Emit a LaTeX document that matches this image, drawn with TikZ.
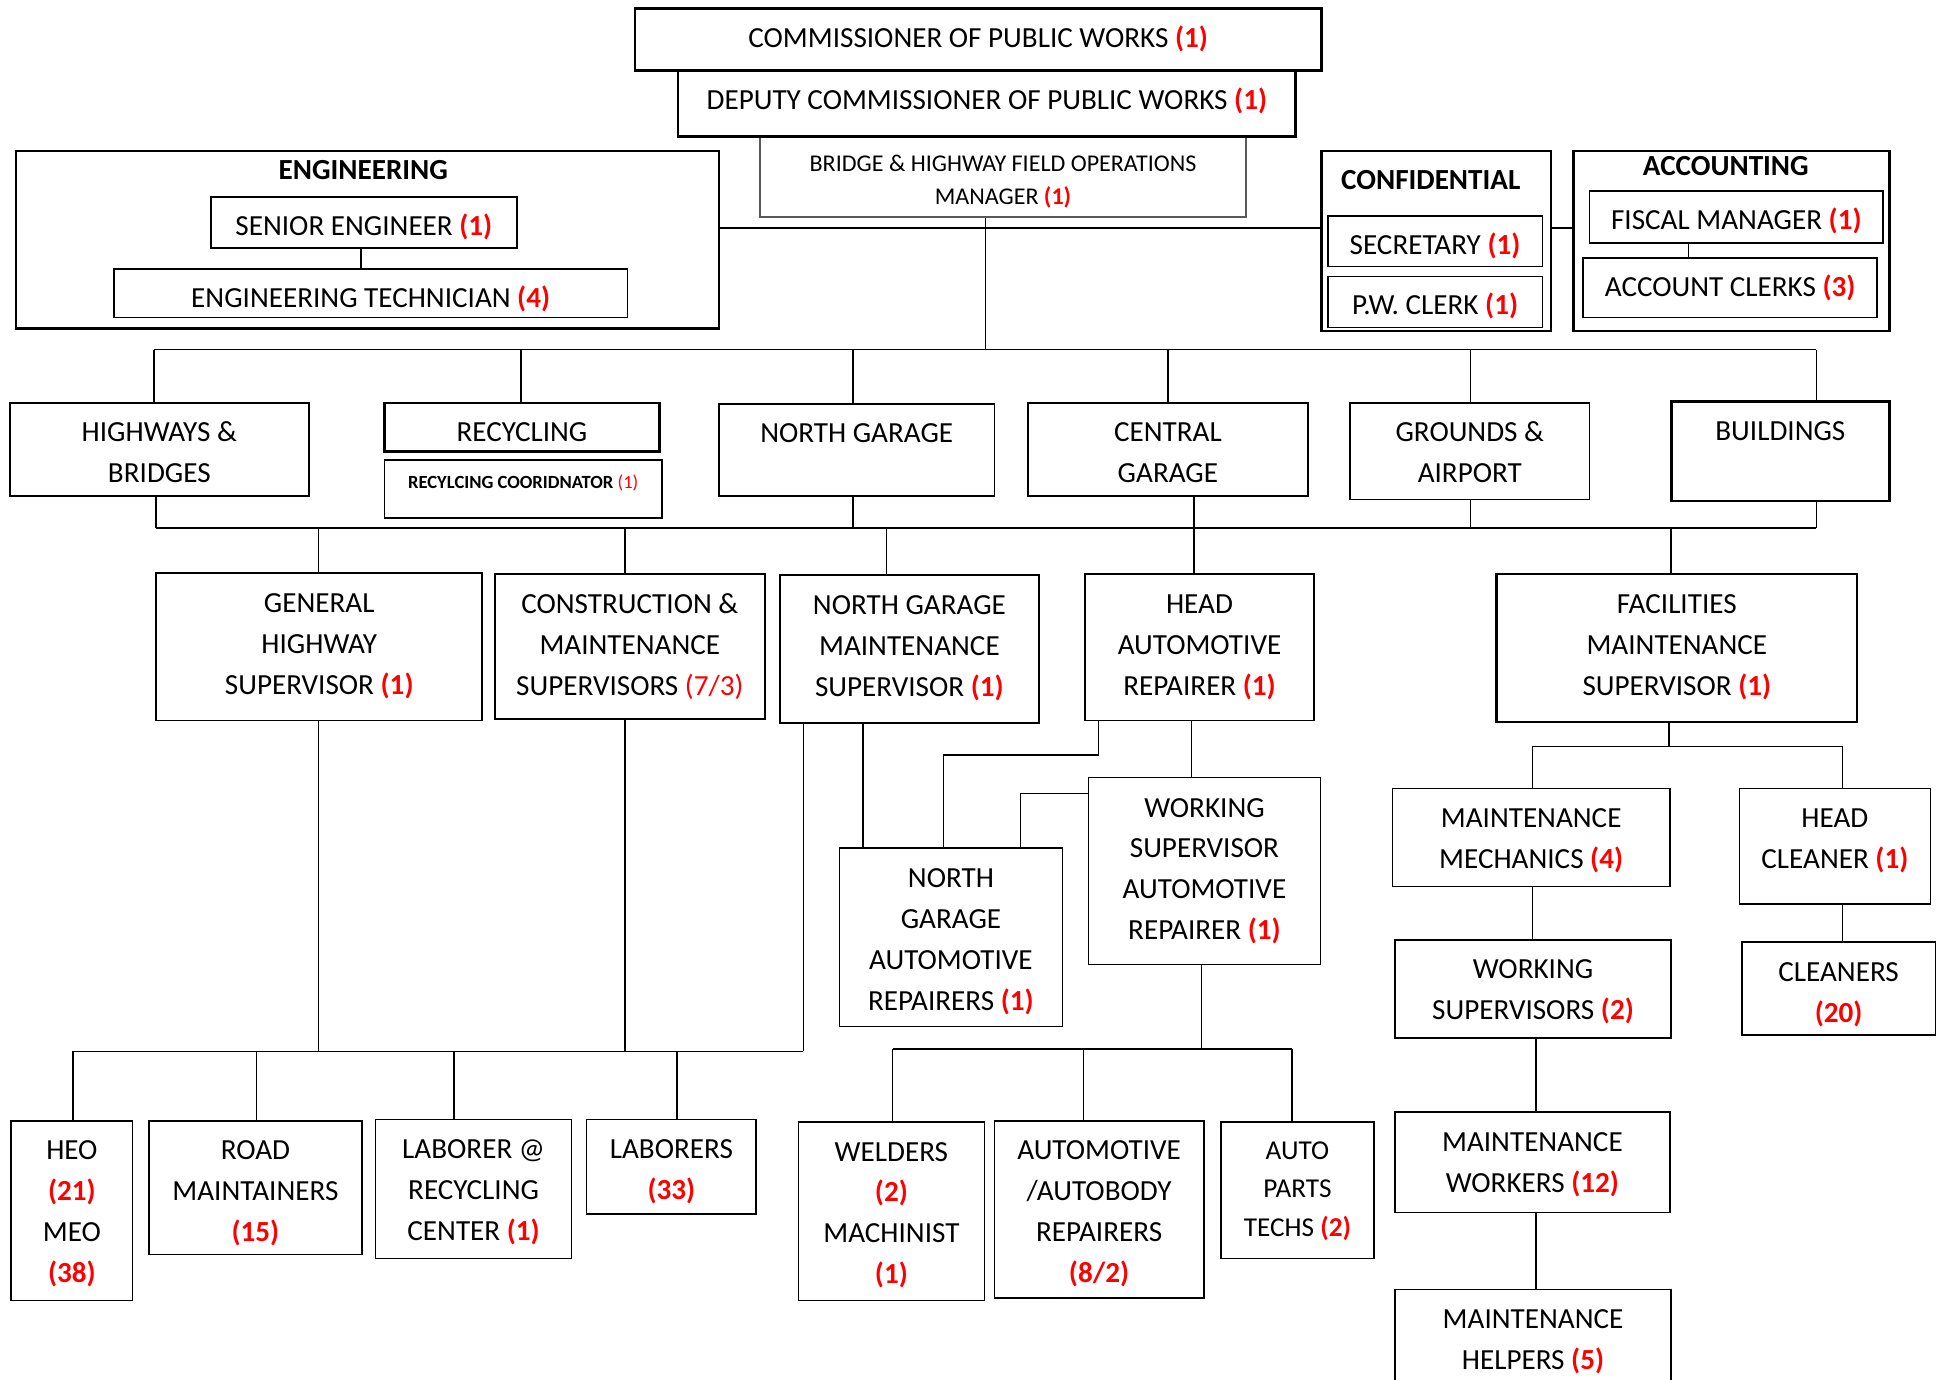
\documentclass[tikz,border=0pt]{standalone}
\usepackage{fontspec}
\setmainfont{Carlito}
\newcommand\fsz{\fontsize{23.5}{33}\selectfont}
\newcommand\fsb{\fontsize{19.4}{27}\selectfont}
\newcommand\fss{\fontsize{15}{18}\selectfont}
\newcommand\nm[1]{{\bfseries\color{red}#1}}
\newcommand\nr[1]{{\color{red}#1}}
\tikzset{
  bx/.style={draw, line width=1.3pt, inner sep=0pt, align=center, font=\fsz},
  thk/.style={line width=2pt},
  ln/.style={line width=1.3pt},
  sz/.style 2 args={minimum width=#1pt, minimum height=#2pt},
  tp/.style={text height=31pt, text depth=#1pt},
  tq/.style 2 args={text height=#1pt, text depth=#2pt},
  ttl/.style={font=\fsz\bfseries, inner sep=0pt}
}
\begin{document}
\begin{tikzpicture}[x=1pt,y=-1pt]
\useasboundingbox (0,0) rectangle (1568,1113);
\clip (0,0) rectangle (1568,1113);
\fill[white] (0,0) rectangle (1568,1113);
% top
\node[bx,draw=gray!70!black,line width=1pt,sz={392}{65},font=\fsb,tq={55}{10}] (bridge) at (809,142.5) {BRIDGE \& HIGHWAY FIELD OPERATIONS\\MANAGER \nm{(1)}};
\node[bx,thk,sz={554}{50},tp=19] (comm) at (789,32) {COMMISSIONER OF PUBLIC WORKS \nm{(1)}};
\node[bx,thk,sz={498}{53},tp=22] (dep) at (796,83.5) {DEPUTY COMMISSIONER OF PUBLIC WORKS \nm{(1)}};
% engineering
\node[bx,thk,sz={567}{143}] (eng) at (296.5,193.5) {};
\node[ttl] (engt) at (293,137) {ENGINEERING};
\node[bx,sz={247}{41},tp=10] (senior) at (293.5,179.5) {SENIOR ENGINEER \nm{(1)}};
\node[bx,sz={414}{39},tp=8] (tech) at (299,236.5) {ENGINEERING TECHNICIAN \nm{(4)}};
% confidential
\node[bx,thk,sz={185}{145}] (conf) at (1158.5,194.5) {};
\node[ttl] (conft) at (1154,145) {CONFIDENTIAL};
\node[bx,sz={173}{41},tp=10] (sec) at (1157.5,194.5) {SECRETARY \nm{(1)}};
\node[bx,sz={173}{41},tp=10] (pw) at (1157.5,243.5) {P.W. CLERK \nm{(1)}};
% accounting
\node[bx,thk,sz={255}{145}] (acct) at (1396.5,194.5) {};
\node[ttl] (acctt) at (1392,134) {ACCOUNTING};
\node[bx,sz={237}{42},tp=11] (fisc) at (1400.5,175) {FISCAL MANAGER \nm{(1)}};
\node[bx,sz={237}{48},tp=17] (clerks) at (1395.5,232) {ACCOUNT CLERKS \nm{(3)}};
% departments
\node[bx,sz={241}{75},tq={64.5}{10.5}] (hwy) at (128.5,362.5) {HIGHWAYS \&\\BRIDGES};
\node[bx,thk,sz={222}{39},tp=8] (recy) at (421,344.5) {RECYCLING};
\node[bx,sz={224}{47},font=\fss,tq={22.8}{24.2}] (recoord) at (422,394.5) {{\bfseries RECYLCING COORIDNATOR} \nr{(1)}};
\node[bx,sz={222}{74},tp=43] (ngar) at (691,363) {NORTH GARAGE};
\node[bx,sz={226}{75},tq={64.5}{10.5}] (cgar) at (942,362.5) {CENTRAL\\GARAGE};
\node[bx,sz={193}{78},tq={64.5}{13.5}] (grnd) at (1185.5,364) {GROUNDS \&\\AIRPORT};
\node[bx,thk,sz={176}{80},tp=49] (bldg) at (1436,364) {BUILDINGS};
% supervisors
\node[bx,sz={263}{119},tq={98}{21}] (ghs) at (257.5,521.5) {GENERAL\\HIGHWAY\\SUPERVISOR \nm{(1)}};
\node[bx,line width=1.7pt,sz={218}{117},tq={98}{19}] (cms) at (508,521.5) {CONSTRUCTION \&\\MAINTENANCE\\SUPERVISORS \nr{(7/3)}};
\node[bx,sz={209}{119},tq={98}{21}] (ngms) at (733.5,523.5) {NORTH GARAGE\\MAINTENANCE\\SUPERVISOR \nm{(1)}};
\node[bx,sz={185}{118},tq={98}{20}] (har) at (967.5,522) {HEAD\\AUTOMOTIVE\\REPAIRER \nm{(1)}};
\node[bx,line width=1.7pt,sz={291}{119},tq={98}{21}] (fms) at (1352.5,522.5) {FACILITIES\\MAINTENANCE\\SUPERVISOR \nm{(1)}};
% middle
\node[bx,sz={180}{144},tq={131}{13}] (ngauto) at (767,756) {NORTH\\GARAGE\\AUTOMOTIVE\\REPAIRERS \nm{(1)}};
\node[bx,sz={187}{151},tq={131}{20}] (wsar) at (971.5,702.5) {WORKING\\SUPERVISOR\\AUTOMOTIVE\\REPAIRER \nm{(1)}};
% right
\node[bx,sz={224}{79},tq={64.5}{14.5}] (mm) at (1235,675.5) {MAINTENANCE\\MECHANICS \nm{(4)}};
\node[bx,sz={154}{93},tq={64.5}{28.5}] (hc) at (1480,682.5) {HEAD\\CLEANER \nm{(1)}};
\node[bx,sz={223}{79},tq={64.5}{14.5}] (ws) at (1236.5,797.5) {WORKING\\SUPERVISORS \nm{(2)}};
\node[bx,sz={156}{75},tq={64.5}{10.5}] (cl) at (1483,797.5) {CLEANERS\\\nm{(20)}};
\node[bx,sz={222}{81},tq={64.5}{16.5}] (mw) at (1236,937.5) {MAINTENANCE\\WORKERS \nm{(12)}};
\node[bx,sz={223}{81},tq={64.5}{16.5}] (mh) at (1236.5,1080.5) {MAINTENANCE\\HELPERS \nm{(5)}};
% bottom
\node[bx,sz={98}{145},tq={130.5}{14.5}] (heo) at (58,976.5) {HEO\\\nm{(21)}\\MEO\\\nm{(38)}};
\node[bx,sz={172}{108},tq={97.5}{10.5}] (road) at (206,958) {ROAD\\MAINTAINERS\\\nm{(15)}};
\node[bx,sz={158}{112},tq={97.5}{14.5}] (labrc) at (382,959) {LABORER @\\RECYCLING\\CENTER \nm{(1)}};
\node[bx,sz={137}{76},tq={64.5}{11.5}] (lab) at (541.5,941) {LABORERS\\\nm{(33)}};
\node[bx,sz={150}{144},tq={130.5}{13.5}] (weld) at (719,977) {WELDERS\\\nm{(2)}\\MACHINIST\\\nm{(1)}};
\node[bx,sz={169}{143},tq={130.5}{12.5}] (auto) at (886.5,975.5) {AUTOMOTIVE\\/AUTOBODY\\REPAIRERS\\\nm{(8/2)}};
\node[bx,sz={123}{110},font=\fontsize{22}{31}\selectfont,tq={92}{18}] (parts) at (1046.5,960) {AUTO\\PARTS\\TECHS \nm{(2)}};
% connectors top
\coordinate (j1) at (795,184);
\draw[ln] (eng.east |- j1) -- (conf.west |- j1);
\draw[ln] (conf.east |- j1) -- (acct.west |- j1);
\coordinate (b1) at (795,282);
\draw[ln] (b1 |- bridge.south) -- (b1);
\coordinate (j2) at (291,0);
\draw[ln] (j2 |- senior.south) -- (j2 |- tech.north);
\coordinate (j3) at (1362,0);
\draw[ln] (j3 |- fisc.south) -- (j3 |- clerks.north);
% bus 1
\coordinate (u1) at (124,282); \coordinate (u2) at (420,282); \coordinate (u3) at (688,282);
\coordinate (u4) at (942,282); \coordinate (u5) at (1186,282); \coordinate (u6) at (1465,282);
\draw[ln] (u1) -- (u6);
\foreach \a/\b in {u1/hwy,u2/recy,u3/ngar,u4/cgar,u5/grnd,u6/bldg} \draw[ln] (\a) -- (\a |- \b.north);
% bus 2
\coordinate (v1) at (126,426); \coordinate (v3) at (688,426); \coordinate (v4) at (963,426);
\coordinate (v5) at (1186,426); \coordinate (v6) at (1465,426);
\coordinate (w1) at (257,426); \coordinate (w2) at (504,426); \coordinate (w3) at (715,426);
\coordinate (w5) at (1348,426);
\draw[ln] (v1) -- (v6);
\foreach \a/\b in {v1/hwy,v3/ngar,v4/cgar,v5/grnd,v6/bldg} \draw[ln] (\a) -- (\a |- \b.south);
\foreach \a/\b in {w1/ghs,w2/cms,w3/ngms,v4/har,w5/fms} \draw[ln] (\a) -- (\a |- \b.north);
% bus 3
\coordinate (p1) at (59,848); \coordinate (p2) at (207,848); \coordinate (p3) at (366,848); \coordinate (p4) at (546,848);
\coordinate (q1) at (257,848); \coordinate (q2) at (504,848); \coordinate (q3) at (648,848);
\draw[ln] (p1) -- (q3);
\foreach \a/\b in {q1/ghs,q2/cms,q3/ngms} \draw[ln] (\a) -- (\a |- \b.south);
\foreach \a/\b in {p1/heo,p2/road,p3/labrc,p4/lab} \draw[ln] (\a) -- (\a |- \b.north);
% middle connectors
\coordinate (m1) at (696,0);
\draw[ln] (m1 |- ngms.south) -- (m1 |- ngauto.north);
\coordinate (m2) at (886,609); \coordinate (m3) at (761,609);
\draw[ln] (m2 |- har.south) -- (m2) -- (m3) -- (m3 |- ngauto.north);
\coordinate (m4) at (961,0);
\draw[ln] (m4 |- har.south) -- (m4 |- wsar.north);
\coordinate (m5) at (823,640);
\draw[ln] (wsar.west |- m5) -- (m5) -- (m5 |- ngauto.north);
% bus 4
\coordinate (r0) at (969,846); \coordinate (r1) at (720,846); \coordinate (r2) at (874,846); \coordinate (r3) at (1042,846);
\draw[ln] (r0 |- wsar.south) -- (r0);
\draw[ln] (r1) -- (r3);
\foreach \a/\b in {r1/weld,r2/auto,r3/parts} \draw[ln] (\a) -- (\a |- \b.north);
% right connectors
\coordinate (s0) at (1346,602); \coordinate (s1) at (1236,602); \coordinate (s2) at (1486,602);
\draw[ln] (s0 |- fms.south) -- (s0);
\draw[ln] (s1) -- (s2);
\draw[ln] (s1) -- (s1 |- mm.north);
\draw[ln] (s2) -- (s2 |- hc.north);
\draw[ln] (s1 |- mm.south) -- (s1 |- ws.north);
\coordinate (s4) at (1239,0);
\draw[ln] (s4 |- ws.south) -- (s4 |- mw.north);
\draw[ln] (s4 |- mw.south) -- (s4 |- mh.north);
\draw[ln] (s2 |- hc.south) -- (s2 |- cl.north);
\end{tikzpicture}
\end{document}
